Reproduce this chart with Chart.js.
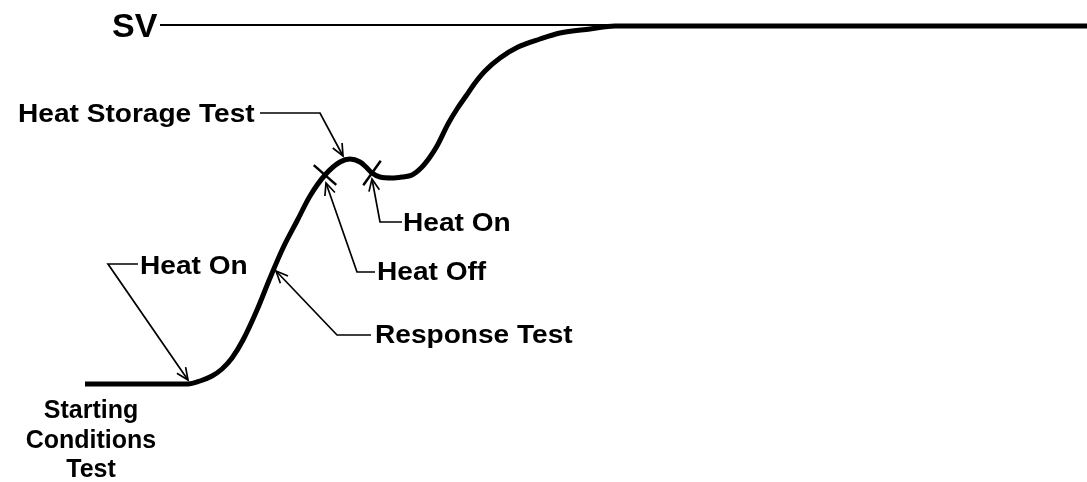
<!DOCTYPE html>
<html>
<head>
<meta charset="utf-8">
<script src="https://cdn.jsdelivr.net/npm/chart.js@4.4.1/dist/chart.umd.min.js"></script>
<style>
    html, body { margin: 0; padding: 0; background: #fff; }
</style>
</head>
<body>
<canvas id="processChart" width="1087" height="482"></canvas>
<script>
// curve: time (x) and temperature (height above bottom)
const timeValues = [85, 188, 200, 212, 222, 232, 243, 257, 270, 283, 297, 310, 325, 340, 350, 360, 366, 372,
    380, 392, 402, 412, 422, 430, 437, 448, 457, 466, 475, 485, 500, 518, 540, 560, 590, 615, 1087];
const tempValues = [98, 98, 101, 106, 113, 124, 142, 172, 204, 234, 261, 286, 307, 320, 323, 320, 315, 309,
    305, 304, 305, 307, 315, 325, 336, 358, 373, 386, 399, 411, 424, 435, 443, 449, 453, 456, 456];

// set value line
const svTimes = [160, 1087];
const svLevel = 457;

// crossing marks on the curve (indexes into the curve)
const heatOffIndex = 12;
const heatOnIndex = 17;

// callouts: text, baseline position, leader path (ends at arrow tip)
const callouts = [
    { text: 'Heat Storage Test', x: 18, y: 360, path: [[260, 369], [320, 369], [343, 326]] },
    { text: 'Heat On', x: 403, y: 251, path: [[402, 260], [380, 260], [372, 303]] },
    { text: 'Heat Off', x: 377, y: 202, path: [[375, 210], [357, 210], [326, 299]] },
    { text: 'Response Test', x: 375, y: 139, path: [[371, 147], [337, 147], [276, 211]] },
    { text: 'Heat On', x: 140, y: 208, path: [[138, 218], [108, 218], [188, 102]] }
];
const startLines = ['Starting', 'Conditions', 'Test'];
const startBaselines = [64, 34, 5];

function drawArrow(ctx, x0, y0, x1, y1) {
    const a = Math.atan2(y1 - y0, x1 - x0);
    const len = 13, spread = 0.42;
    ctx.beginPath();
    ctx.moveTo(x1 - len * Math.cos(a - spread), y1 - len * Math.sin(a - spread));
    ctx.lineTo(x1, y1);
    ctx.lineTo(x1 - len * Math.cos(a + spread), y1 - len * Math.sin(a + spread));
    ctx.stroke();
}

function stretchedText(ctx, text, x, y, sx) {
    ctx.save();
    ctx.translate(x, y);
    ctx.scale(sx, 1);
    ctx.fillText(text, 0, 0);
    ctx.restore();
}

const annotationPlugin = {
    id: 'callouts',
    afterDatasetsDraw(chart) {
        const ctx = chart.ctx;
        const xs = chart.scales.x, ys = chart.scales.y;
        const px = v => xs.getPixelForValue(v);
        const py = v => ys.getPixelForValue(v);
        ctx.save();
        ctx.strokeStyle = '#000';
        ctx.fillStyle = '#000';

        // tick marks across the curve
        ctx.lineWidth = 2.5;
        [heatOffIndex, heatOnIndex].forEach(i => {
            const cx = px(timeValues[i]), cy = py(tempValues[i]);
            const dx = px(timeValues[i + 1]) - px(timeValues[i - 1]);
            const dy = py(tempValues[i + 1]) - py(tempValues[i - 1]);
            const n = Math.hypot(dx, dy);
            const nx = -dy / n * 15, ny = dx / n * 15;
            ctx.beginPath();
            ctx.moveTo(cx - nx, cy - ny);
            ctx.lineTo(cx + nx, cy + ny);
            ctx.stroke();
        });

        // leaders
        ctx.lineWidth = 1.7;
        callouts.forEach(c => {
            const pts = c.path.map(p => [px(p[0]), py(p[1])]);
            ctx.beginPath();
            ctx.moveTo(pts[0][0], pts[0][1]);
            for (let k = 1; k < pts.length; k++) ctx.lineTo(pts[k][0], pts[k][1]);
            ctx.stroke();
            const a = pts[pts.length - 2], b = pts[pts.length - 1];
            drawArrow(ctx, a[0], a[1], b[0], b[1]);
        });

        // texts
        ctx.textBaseline = 'alphabetic';
        ctx.textAlign = 'left';
        ctx.font = 'bold 26px "Liberation Sans", Arial, sans-serif';
        callouts.forEach(c => stretchedText(ctx, c.text, px(c.x), py(c.y), 1.08));

        ctx.font = 'bold 34px "Liberation Sans", Arial, sans-serif';
        ctx.fillText('SV', px(112), py(445));

        ctx.textAlign = 'center';
        ctx.font = 'bold 25px "Liberation Sans", Arial, sans-serif';
        startLines.forEach((t, k) => ctx.fillText(t, px(91), py(startBaselines[k])));
        ctx.restore();
    }
};

new Chart(document.getElementById('processChart'), {
    type: 'line',
    data: {
        datasets: [{
            label: 'SV',
            data: svTimes.map(t => ({ x: t, y: svLevel })),
            borderColor: '#000',
            borderWidth: 2,
            pointRadius: 0
        }, {
            label: 'Process',
            data: timeValues.map((t, i) => ({ x: t, y: tempValues[i] })),
            borderColor: '#000',
            borderWidth: 5,
            pointRadius: 0,
            cubicInterpolationMode: 'monotone',
            borderCapStyle: 'butt'
        }]
    },
    options: {
        responsive: false,
        animation: false,
        devicePixelRatio: 1,
        layout: { padding: 0 },
        plugins: {
            legend: { display: false },
            tooltip: { enabled: false }
        },
        scales: {
            x: { type: 'linear', min: 0, max: 1087, display: false },
            y: { type: 'linear', min: 0, max: 482, display: false }
        }
    },
    plugins: [annotationPlugin]
});
</script>
</body>
</html>
